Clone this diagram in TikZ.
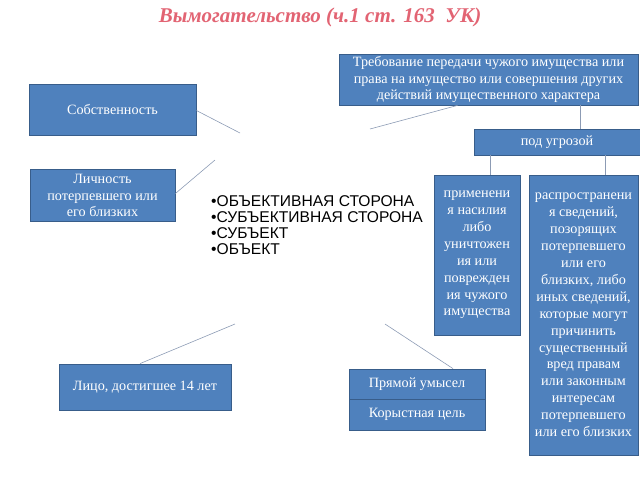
\documentclass[tikz,border=0pt]{standalone}
\usepackage{fontspec}
\setmainfont{Liberation Serif}
\newfontfamily\arialfont{Liberation Sans}
\definecolor{boxblue}{RGB}{79,129,189}
\definecolor{boxedge}{RGB}{56,93,138}
\definecolor{linegray}{RGB}{140,155,180}
\definecolor{titlered}{RGB}{226,100,115}
\tikzset{
	box/.style={draw=boxedge, fill=boxblue, thick, text=white, align=center, inner sep=0pt,
		font=\fontsize{14.2}{16.9}\selectfont},
	link/.style={draw=linegray, semithick}
}
\begin{document}
\begin{tikzpicture}[x=1pt, y=-1pt]
	\useasboundingbox (0,0) rectangle (640,480);
	
	\coordinate (sobend) at (240,133);
	\coordinate (lichend) at (215,160);
	\coordinate (trebend) at (370,129);
	\coordinate (licoend) at (235,324);
	\coordinate (pryamend) at (385,324);
	
	\node (title) at (320,17) [text=titlered, font=\fontsize{21}{24}\selectfont\bfseries\itshape]{Вымогательство (ч.1 ст. 163~~УК)};
	
	\node (sob) at (112.5,109.5) [box, minimum width=167, minimum height=51]{Собственность};
	\node (lich) at (102.5,195.5) [box, minimum width=145, minimum height=52]{Личность\\потерпевшего или\\его близких};
	\node (treb) at (488.5,79.5) [box, minimum width=299, minimum height=51]{Требование передачи чужого имущества или\\права на имущество или совершения других\\действий имущественного характера};
	\node (ugroz) at (557,142) [box, minimum width=166, minimum height=26]{под угрозой};
	\node (prim) at (477,255) [box, minimum width=86, minimum height=160]{применени\\я насилия\\либо\\уничтожен\\ия или\\поврежден\\ия чужого\\имущества};
	\node (rasp) at (583.5,315) [box, minimum width=109, minimum height=280]{распространени\\я сведений,\\позорящих\\потерпевшего\\или его\\близких, либо\\иных сведений,\\которые могут\\причинить\\существенный\\вред правам\\или законным\\интересам\\потерпевшего\\или его близких};
	\node (lico) at (145,387) [box, minimum width=172, minimum height=46]{Лицо, достигшее 14 лет};
	\node (pryam) at (417,384) [box, minimum width=136, minimum height=30]{Прямой умысел};
	\node (kor) at (417,414.5) [box, minimum width=136, minimum height=31]{Корыстная цель};
	
	\node (list) at (211,225) [anchor=west, align=left, inner sep=0pt,
		font=\arialfont\fontsize{15.6}{16}\selectfont]{•ОБЪЕКТИВНАЯ СТОРОНА\\•СУБЪЕКТИВНАЯ СТОРОНА\\•СУБЪЕКТ\\•ОБЪЕКТ};
	
	% connectors
	\draw[link] ([yshift=-1pt]sob.east) -- (sobend);
	\draw[link] ([yshift=2pt]lich.east) -- (lichend);
	\draw[link] ([xshift=-31pt]treb.south) -- (trebend);
	\draw[link] ([xshift=-5pt]lico.north) -- (licoend);
	\draw[link] ([xshift=36pt]pryam.north) -- (pryamend);
	\draw[link] ([xshift=23pt]ugroz.north) -- ([xshift=23pt]ugroz.north |- treb.south);
	\draw[link] ([xshift=13pt]prim.north) -- ([xshift=13pt]prim.north |- ugroz.south);
	\draw[link] ([xshift=21.5pt]rasp.north) -- ([xshift=21.5pt]rasp.north |- ugroz.south);
\end{tikzpicture}
\end{document}
